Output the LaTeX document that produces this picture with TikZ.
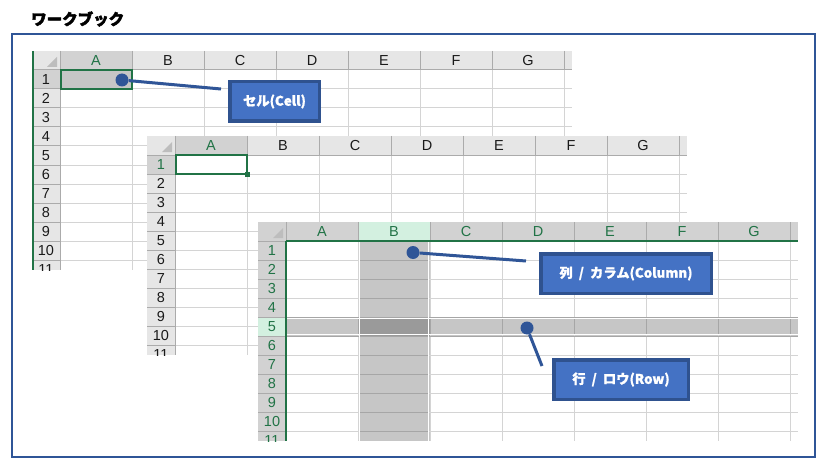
\documentclass[tikz,border=0pt]{standalone}
\usepackage{fontspec}
\newfontfamily\jp{Noto Sans CJK JP}[BoldFeatures={FakeBold=1}]
\newfontfamily\jph{Noto Sans CJK JP}[BoldFeatures={FakeBold=2.5}]
\newfontfamily\arialf{Liberation Sans}
\definecolor{gridcol}{HTML}{D4D4D4}
\definecolor{hdrsep}{HTML}{ABABAB}
\definecolor{hdrL}{HTML}{E6E6E6}
\definecolor{hdrD}{HTML}{D2D2D2}
\definecolor{selgray}{HTML}{C6C6C6}
\definecolor{xgreen}{HTML}{217346}
\definecolor{selgreen}{HTML}{D3F0E0}
\definecolor{bandline}{HTML}{A6A6A6}
\definecolor{isect}{HTML}{9A9A9A}
\definecolor{blueF}{HTML}{4472C4}
\definecolor{blueD}{HTML}{2F528F}
\definecolor{framec}{HTML}{2F5597}
\definecolor{tric}{HTML}{BDBDBD}
\definecolor{txt}{HTML}{1A1A1A}
\tikzset{
  gline/.style={draw=gridcol,line width=1},
  hline/.style={draw=hdrsep,line width=1},
  hlab/.style={font=\arialf\fontsize{14.5}{15}\selectfont,inner sep=0,anchor=center},
  callout/.style={fill=blueF,draw=blueD,line width=3.5,text=white,
     font=\jp\bfseries\fontsize{13.3}{15}\selectfont,minimum height=39.5,inner sep=0},
  dotnode/.style={circle,fill=framec,minimum size=13,inner sep=0},
  conn/.style={draw=framec,line width=3},
}
\newcommand\sheetbg[1]{%
  \fill[white] (0,0) rectangle (540,219);
  \fill[#1] (0,0) rectangle (540,19);
  \fill[#1] (0,19) rectangle (28,219);
}
\newcommand\sheetgrid{%
  \foreach \k in {1,...,7} \draw[gline] (28+72*\k,19) -- (28+72*\k,219);
  \foreach \j in {1,...,10} \draw[gline] (28,19+19*\j) -- (540,19+19*\j);
  \foreach \k in {1,...,7} \draw[hline] (28+72*\k,0) -- (28+72*\k,19);
  \foreach \j in {1,...,10} \draw[hline] (0,19+19*\j) -- (28,19+19*\j);
  \draw[hline] (0,19) -- (540,19);
  \draw[hline] (28,0) -- (28,219);
  \fill[tric] (25,6) -- (25,16) -- (15,16) -- cycle;
}
\newcommand\sheetlabels[5]{%
  \node[hlab,text=#4] (#1cA) at (64,10) {A};
  \foreach \c/\k in {B/2,C/3,D/4,E/5,F/6,G/7} \node[hlab,text=#2] (#1c\c) at (28+72*\k-36,10) {\c};
  \node[hlab,text=#5] (#1r1) at (14,28.5) {1};
  \foreach \j in {2,...,11} \node[hlab,text=#3] (#1r\j) at (14,19*\j+9.5) {\j};
}
\begin{document}
\begin{tikzpicture}[x=1pt,y=-1pt]
\useasboundingbox (0,0) rectangle (827,468);
\fill[white] (0,0) rectangle (827,468);
% title
\node[anchor=west,inner sep=0,font=\jph\bfseries\fontsize{15.5}{17}\selectfont] (title) at (31,19) {ワークブック};
% frame
\draw[framec,line width=1.2] (12,34) rectangle (815,457);

% ---- sheet 1
\begin{scope}[shift={(32,51)}]
  \clip (0,0) rectangle (540,219);
  \sheetbg{hdrL}
  \fill[hdrD] (28,0) rectangle (100,19);
  \fill[hdrD] (0,19) rectangle (28,38);
  \fill[selgray] (28,19) rectangle (100,38);
  \sheetgrid
  \draw[xgreen,line width=1.6] (28.8,18.8) rectangle (100,38);
  \draw[xgreen,line width=2] (1,0) -- (1,219);
  \sheetlabels{s1}{txt}{txt}{xgreen}{txt}
\end{scope}

% ---- sheet 2
\begin{scope}[shift={(147,136)}]
  \clip (0,0) rectangle (540,219);
  \sheetbg{hdrL}
  \fill[hdrD] (28,0) rectangle (100,19);
  \fill[hdrD] (0,19) rectangle (28,38);
  \sheetgrid
  \draw[xgreen,line width=2] (29,19) rectangle (100,38);
  \fill[xgreen] (98,36) rectangle (103,41);
  \sheetlabels{s2}{txt}{txt}{xgreen}{xgreen}
\end{scope}

% ---- sheet 3
\begin{scope}[shift={(258,222)}]
  \clip (0,0) rectangle (540,219);
  \sheetbg{hdrD}
  \fill[selgreen] (100,0) rectangle (172,19);
  \fill[selgreen] (0,95) rectangle (28,114);
  \fill[selgray] (100,19) rectangle (172,219);
  \fill[selgray] (28,95) rectangle (540,114);
  \fill[isect] (100,95) rectangle (172,114);
  \sheetgrid
  \foreach \j in {1,...,10} \draw[draw=bandline,line width=1] (101,19+19*\j) -- (171,19+19*\j);
  \foreach \k in {1,...,7} \draw[draw=bandline,line width=1] (28+72*\k,96) -- (28+72*\k,113);
  \draw[bandline,line width=1] (28,95) -- (540,95);
  \draw[bandline,line width=1] (28,114) -- (540,114);
  \draw[white,line width=1] (28,96.5) -- (540,96.5);
  \draw[white,line width=1] (28,112.5) -- (540,112.5);
  \draw[white,line width=1] (101.5,19) -- (101.5,219);
  \draw[white,line width=1] (170.5,19) -- (170.5,219);
  \draw[xgreen,line width=2] (28,19) -- (540,19);
  \draw[xgreen,line width=2] (28,19) -- (28,219);
  \sheetlabels{s3}{xgreen}{xgreen}{xgreen}{xgreen}
\end{scope}

% ---- callouts
\node[callout,minimum width=89.5] (cell) at (274.5,101.5) {セル(Cell)};
\node[callout,minimum width=170.5] (col) at (626,273.5) {列\ \ /\ \ カラム(Column)};
\node[callout,minimum width=134.5] (row) at (621,379.5) {行\ \ /\ \ ロウ(Row)};

\coordinate (e1) at (221,89);
\coordinate (e2) at (526,261);
\coordinate (e3) at (542,366);
\node[dotnode] (d1) at (122,80) {};
\node[dotnode] (d2) at (413,252.5) {};
\node[dotnode] (d3) at (527,328) {};
\draw[conn] (d1) -- (e1);
\draw[conn] (d2) -- (e2);
\draw[conn] (d3) -- (e3);
\end{tikzpicture}
\end{document}
